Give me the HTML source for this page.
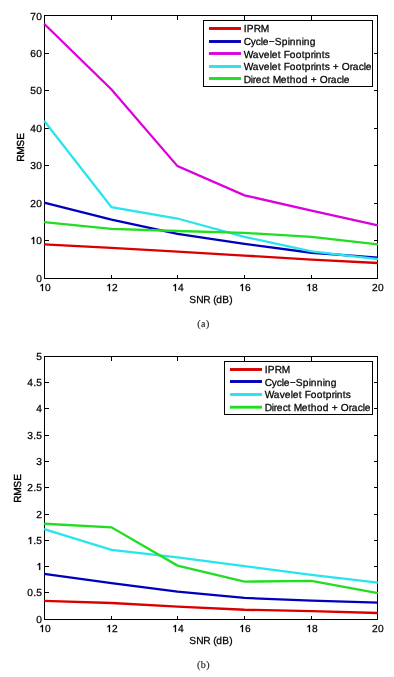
<!DOCTYPE html>
<html><head><meta charset="utf-8"><style>
html,body{margin:0;padding:0;background:#fff;}
body{width:394px;height:677px;overflow:hidden;}
svg{display:block;}
.t{filter:grayscale(1);text-rendering:geometricPrecision;font-family:"Liberation Sans",sans-serif;font-size:10.2px;fill:#000;stroke:#000;stroke-width:0.25px;}
.r{stroke-width:0.4px;}
.g{fill:#000;stroke:#000;stroke-width:0.25px;}
.c{filter:grayscale(1);text-rendering:geometricPrecision;font-family:"Liberation Serif",serif;font-size:10px;letter-spacing:0.5px;fill:#222;stroke:#222;stroke-width:0.15px;}
</style></head><body>
<svg width="394" height="677" viewBox="0 0 394 677">
<rect width="394" height="677" fill="#fff"/>
<rect x="44.5" y="15.5" width="333" height="263" fill="none" stroke="#000" stroke-width="1"/>
<line x1="44.5" y1="15" x2="44.5" y2="20" stroke="#000"/>
<line x1="44.5" y1="279" x2="44.5" y2="275" stroke="#000"/>
<text transform="translate(45.10,291.00)" x="0" y="0" class="t">0</text><path transform="translate(39.10,291.00)" d="M2.85,-7.1H3.9V0H2.85V-5.5C2.4,-5.1 1.8,-4.8 1.25,-4.65V-5.55C2.0,-5.9 2.55,-6.5 2.85,-7.1Z" class="g"/>
<line x1="111.5" y1="15" x2="111.5" y2="20" stroke="#000"/>
<line x1="111.5" y1="279" x2="111.5" y2="275" stroke="#000"/>
<text transform="translate(112.10,291.00)" x="0" y="0" class="t">2</text><path transform="translate(106.10,291.00)" d="M2.85,-7.1H3.9V0H2.85V-5.5C2.4,-5.1 1.8,-4.8 1.25,-4.65V-5.55C2.0,-5.9 2.55,-6.5 2.85,-7.1Z" class="g"/>
<line x1="177.5" y1="15" x2="177.5" y2="20" stroke="#000"/>
<line x1="177.5" y1="279" x2="177.5" y2="275" stroke="#000"/>
<text transform="translate(178.10,291.00)" x="0" y="0" class="t">4</text><path transform="translate(172.10,291.00)" d="M2.85,-7.1H3.9V0H2.85V-5.5C2.4,-5.1 1.8,-4.8 1.25,-4.65V-5.55C2.0,-5.9 2.55,-6.5 2.85,-7.1Z" class="g"/>
<line x1="244.5" y1="15" x2="244.5" y2="20" stroke="#000"/>
<line x1="244.5" y1="279" x2="244.5" y2="275" stroke="#000"/>
<text transform="translate(245.10,291.00)" x="0" y="0" class="t">6</text><path transform="translate(239.10,291.00)" d="M2.85,-7.1H3.9V0H2.85V-5.5C2.4,-5.1 1.8,-4.8 1.25,-4.65V-5.55C2.0,-5.9 2.55,-6.5 2.85,-7.1Z" class="g"/>
<line x1="311.5" y1="15" x2="311.5" y2="20" stroke="#000"/>
<line x1="311.5" y1="279" x2="311.5" y2="275" stroke="#000"/>
<text transform="translate(312.10,291.00)" x="0" y="0" class="t">8</text><path transform="translate(306.10,291.00)" d="M2.85,-7.1H3.9V0H2.85V-5.5C2.4,-5.1 1.8,-4.8 1.25,-4.65V-5.55C2.0,-5.9 2.55,-6.5 2.85,-7.1Z" class="g"/>
<line x1="377.5" y1="15" x2="377.5" y2="20" stroke="#000"/>
<line x1="377.5" y1="279" x2="377.5" y2="275" stroke="#000"/>
<text transform="translate(378.10,291.00)" x="-6 0" y="0" class="t">20</text>
<line x1="44" y1="278.5" x2="49" y2="278.5" stroke="#000"/>
<line x1="378" y1="278.5" x2="374" y2="278.5" stroke="#000"/>
<text transform="translate(42.30,282.00)" x="-6" y="0" class="t">0</text>
<line x1="44" y1="240.5" x2="49" y2="240.5" stroke="#000"/>
<line x1="378" y1="240.5" x2="374" y2="240.5" stroke="#000"/>
<text transform="translate(42.30,244.00)" x="-6" y="0" class="t">0</text><path transform="translate(30.30,244.00)" d="M2.85,-7.1H3.9V0H2.85V-5.5C2.4,-5.1 1.8,-4.8 1.25,-4.65V-5.55C2.0,-5.9 2.55,-6.5 2.85,-7.1Z" class="g"/>
<line x1="44" y1="203.5" x2="49" y2="203.5" stroke="#000"/>
<line x1="378" y1="203.5" x2="374" y2="203.5" stroke="#000"/>
<text transform="translate(42.30,207.00)" x="-12 -6" y="0" class="t">20</text>
<line x1="44" y1="165.5" x2="49" y2="165.5" stroke="#000"/>
<line x1="378" y1="165.5" x2="374" y2="165.5" stroke="#000"/>
<text transform="translate(42.30,169.00)" x="-12 -6" y="0" class="t">30</text>
<line x1="44" y1="128.5" x2="49" y2="128.5" stroke="#000"/>
<line x1="378" y1="128.5" x2="374" y2="128.5" stroke="#000"/>
<text transform="translate(42.30,132.00)" x="-12 -6" y="0" class="t">40</text>
<line x1="44" y1="90.5" x2="49" y2="90.5" stroke="#000"/>
<line x1="378" y1="90.5" x2="374" y2="90.5" stroke="#000"/>
<text transform="translate(42.30,94.00)" x="-12 -6" y="0" class="t">50</text>
<line x1="44" y1="53.5" x2="49" y2="53.5" stroke="#000"/>
<line x1="378" y1="53.5" x2="374" y2="53.5" stroke="#000"/>
<text transform="translate(42.30,57.00)" x="-12 -6" y="0" class="t">60</text>
<line x1="44" y1="15.5" x2="49" y2="15.5" stroke="#000"/>
<line x1="378" y1="15.5" x2="374" y2="15.5" stroke="#000"/>
<text transform="translate(42.30,20.00)" x="-12 -6" y="0" class="t">70</text>
<polyline points="44.10,244.31 111.50,247.88 177.50,251.71 244.50,255.58 311.50,259.60 377.90,262.98" fill="none" stroke="#da0000" stroke-width="2.3"/>
<polyline points="44.10,202.61 111.50,219.51 177.50,233.79 244.50,243.93 311.50,252.76 377.90,257.61" fill="none" stroke="#0000bc" stroke-width="2.3"/>
<polyline points="44.10,23.77 111.50,89.52 177.50,166.16 244.50,195.28 311.50,210.68 377.90,225.30" fill="none" stroke="#dc00dc" stroke-width="2.3"/>
<polyline points="44.10,120.70 111.50,207.11 177.50,218.50 244.50,236.80 311.50,251.45 377.90,259.11" fill="none" stroke="#28e4ec" stroke-width="2.3"/>
<polyline points="44.10,222.22 111.50,228.91 177.50,231.01 244.50,232.89 311.50,236.80 377.90,244.31" fill="none" stroke="#22dd22" stroke-width="2.3"/>
<rect x="203.5" y="20.5" width="169" height="66" fill="#fff" stroke="#000" stroke-width="1"/>
<line x1="209" y1="28.5" x2="241" y2="28.5" stroke="#da0000" stroke-width="2.9"/>
<text transform="translate(243.80,32.00)" x="0 3 10 17" y="0" class="t">IPRM</text>
<line x1="209" y1="41.5" x2="241" y2="41.5" stroke="#0000bc" stroke-width="2.9"/>
<text transform="translate(243.80,45.00)" x="0 7 12 17 19 25 31 38 44 46 52 58 60 66" y="0" class="t">Cycle−Spinning</text>
<line x1="209" y1="53.5" x2="241" y2="53.5" stroke="#dc00dc" stroke-width="2.9"/>
<text transform="translate(243.80,58.00)" x="0 9 15 20 26 28 34 37 40 46 52 58 61 67 70 72 78 81" y="0" class="t">Wavelet Footprints</text>
<line x1="209" y1="66.5" x2="241" y2="66.5" stroke="#28e4ec" stroke-width="2.9"/>
<text transform="translate(243.80,70.00)" x="0 9 15 20 26 28 34 37 40 46 52 58 61 67 70 72 78 81 86 89 95 98 106 109 115 120 122" y="0" class="t">Wavelet Footprints + Oracle</text>
<line x1="209" y1="78.5" x2="241" y2="78.5" stroke="#22dd22" stroke-width="2.9"/>
<text transform="translate(243.80,83.00)" x="0 7 9 12 18 23 26 29 37 43 46 52 58 64 67 73 76 84 87 93 98 100" y="0" class="t">Direct Method + Oracle</text>
<text transform="translate(189.35,303.00)" x="0 7 14 21 24 27 33 40" y="0" class="t">SNR (dB)</text>
<text transform="translate(24.00,147.20) rotate(-90)" x="-14.5 -7.5 0.5 7.5" y="0" class="t r">RMSE</text>
<text x="203.5" y="326.6" text-anchor="middle" class="c">(a)</text>
<rect x="44.5" y="356.5" width="333" height="263" fill="none" stroke="#000" stroke-width="1"/>
<line x1="44.5" y1="356" x2="44.5" y2="361" stroke="#000"/>
<line x1="44.5" y1="620" x2="44.5" y2="616" stroke="#000"/>
<text transform="translate(45.10,632.00)" x="0" y="0" class="t">0</text><path transform="translate(39.10,632.00)" d="M2.85,-7.1H3.9V0H2.85V-5.5C2.4,-5.1 1.8,-4.8 1.25,-4.65V-5.55C2.0,-5.9 2.55,-6.5 2.85,-7.1Z" class="g"/>
<line x1="111.5" y1="356" x2="111.5" y2="361" stroke="#000"/>
<line x1="111.5" y1="620" x2="111.5" y2="616" stroke="#000"/>
<text transform="translate(112.10,632.00)" x="0" y="0" class="t">2</text><path transform="translate(106.10,632.00)" d="M2.85,-7.1H3.9V0H2.85V-5.5C2.4,-5.1 1.8,-4.8 1.25,-4.65V-5.55C2.0,-5.9 2.55,-6.5 2.85,-7.1Z" class="g"/>
<line x1="177.5" y1="356" x2="177.5" y2="361" stroke="#000"/>
<line x1="177.5" y1="620" x2="177.5" y2="616" stroke="#000"/>
<text transform="translate(178.10,632.00)" x="0" y="0" class="t">4</text><path transform="translate(172.10,632.00)" d="M2.85,-7.1H3.9V0H2.85V-5.5C2.4,-5.1 1.8,-4.8 1.25,-4.65V-5.55C2.0,-5.9 2.55,-6.5 2.85,-7.1Z" class="g"/>
<line x1="244.5" y1="356" x2="244.5" y2="361" stroke="#000"/>
<line x1="244.5" y1="620" x2="244.5" y2="616" stroke="#000"/>
<text transform="translate(245.10,632.00)" x="0" y="0" class="t">6</text><path transform="translate(239.10,632.00)" d="M2.85,-7.1H3.9V0H2.85V-5.5C2.4,-5.1 1.8,-4.8 1.25,-4.65V-5.55C2.0,-5.9 2.55,-6.5 2.85,-7.1Z" class="g"/>
<line x1="311.5" y1="356" x2="311.5" y2="361" stroke="#000"/>
<line x1="311.5" y1="620" x2="311.5" y2="616" stroke="#000"/>
<text transform="translate(312.10,632.00)" x="0" y="0" class="t">8</text><path transform="translate(306.10,632.00)" d="M2.85,-7.1H3.9V0H2.85V-5.5C2.4,-5.1 1.8,-4.8 1.25,-4.65V-5.55C2.0,-5.9 2.55,-6.5 2.85,-7.1Z" class="g"/>
<line x1="377.5" y1="356" x2="377.5" y2="361" stroke="#000"/>
<line x1="377.5" y1="620" x2="377.5" y2="616" stroke="#000"/>
<text transform="translate(378.10,632.00)" x="-6 0" y="0" class="t">20</text>
<line x1="44" y1="619.5" x2="49" y2="619.5" stroke="#000"/>
<line x1="378" y1="619.5" x2="374" y2="619.5" stroke="#000"/>
<text transform="translate(42.30,623.00)" x="-6" y="0" class="t">0</text>
<line x1="44" y1="592.5" x2="49" y2="592.5" stroke="#000"/>
<line x1="378" y1="592.5" x2="374" y2="592.5" stroke="#000"/>
<text transform="translate(42.30,596.00)" x="-15 -9 -6" y="0" class="t">0.5</text>
<line x1="44" y1="566.5" x2="49" y2="566.5" stroke="#000"/>
<line x1="378" y1="566.5" x2="374" y2="566.5" stroke="#000"/>
<path transform="translate(36.30,570.00)" d="M2.85,-7.1H3.9V0H2.85V-5.5C2.4,-5.1 1.8,-4.8 1.25,-4.65V-5.55C2.0,-5.9 2.55,-6.5 2.85,-7.1Z" class="g"/>
<line x1="44" y1="540.5" x2="49" y2="540.5" stroke="#000"/>
<line x1="378" y1="540.5" x2="374" y2="540.5" stroke="#000"/>
<text transform="translate(42.30,544.00)" x="-9 -6" y="0" class="t">.5</text><path transform="translate(27.30,544.00)" d="M2.85,-7.1H3.9V0H2.85V-5.5C2.4,-5.1 1.8,-4.8 1.25,-4.65V-5.55C2.0,-5.9 2.55,-6.5 2.85,-7.1Z" class="g"/>
<line x1="44" y1="514.5" x2="49" y2="514.5" stroke="#000"/>
<line x1="378" y1="514.5" x2="374" y2="514.5" stroke="#000"/>
<text transform="translate(42.30,518.00)" x="-6" y="0" class="t">2</text>
<line x1="44" y1="487.5" x2="49" y2="487.5" stroke="#000"/>
<line x1="378" y1="487.5" x2="374" y2="487.5" stroke="#000"/>
<text transform="translate(42.30,491.00)" x="-15 -9 -6" y="0" class="t">2.5</text>
<line x1="44" y1="461.5" x2="49" y2="461.5" stroke="#000"/>
<line x1="378" y1="461.5" x2="374" y2="461.5" stroke="#000"/>
<text transform="translate(42.30,465.00)" x="-6" y="0" class="t">3</text>
<line x1="44" y1="435.5" x2="49" y2="435.5" stroke="#000"/>
<line x1="378" y1="435.5" x2="374" y2="435.5" stroke="#000"/>
<text transform="translate(42.30,439.00)" x="-15 -9 -6" y="0" class="t">3.5</text>
<line x1="44" y1="408.5" x2="49" y2="408.5" stroke="#000"/>
<line x1="378" y1="408.5" x2="374" y2="408.5" stroke="#000"/>
<text transform="translate(42.30,412.00)" x="-6" y="0" class="t">4</text>
<line x1="44" y1="382.5" x2="49" y2="382.5" stroke="#000"/>
<line x1="378" y1="382.5" x2="374" y2="382.5" stroke="#000"/>
<text transform="translate(42.30,386.00)" x="-15 -9 -6" y="0" class="t">4.5</text>
<line x1="44" y1="356.5" x2="49" y2="356.5" stroke="#000"/>
<line x1="378" y1="356.5" x2="374" y2="356.5" stroke="#000"/>
<text transform="translate(42.30,360.00)" x="-6" y="0" class="t">5</text>
<polyline points="44.10,600.88 111.50,602.98 177.50,606.61 244.50,609.77 311.50,611.08 377.90,612.98" fill="none" stroke="#da0000" stroke-width="2.3"/>
<polyline points="44.10,573.90 111.50,583.10 177.50,591.62 244.50,597.93 311.50,600.56 377.90,602.67" fill="none" stroke="#0000bc" stroke-width="2.3"/>
<polyline points="44.10,529.03 111.50,549.80 177.50,557.43 244.50,566.11 311.50,574.90 377.90,582.68" fill="none" stroke="#28e4ec" stroke-width="2.3"/>
<polyline points="44.10,523.77 111.50,527.29 177.50,565.59 244.50,581.63 311.50,580.84 377.90,593.20" fill="none" stroke="#22dd22" stroke-width="2.3"/>
<rect x="224.5" y="361.5" width="148" height="53" fill="#fff" stroke="#000" stroke-width="1"/>
<line x1="230" y1="369.5" x2="262" y2="369.5" stroke="#da0000" stroke-width="2.9"/>
<text transform="translate(264.80,373.00)" x="0 3 10 17" y="0" class="t">IPRM</text>
<line x1="230" y1="381.5" x2="262" y2="381.5" stroke="#0000bc" stroke-width="2.9"/>
<text transform="translate(264.80,386.00)" x="0 7 12 17 19 25 31 38 44 46 52 58 60 66" y="0" class="t">Cycle−Spinning</text>
<line x1="230" y1="394.5" x2="262" y2="394.5" stroke="#28e4ec" stroke-width="2.9"/>
<text transform="translate(264.80,398.00)" x="0 9 15 20 26 28 34 37 40 46 52 58 61 67 70 72 78 81" y="0" class="t">Wavelet Footprints</text>
<line x1="230" y1="407.2" x2="262" y2="407.2" stroke="#22dd22" stroke-width="2.9"/>
<text transform="translate(264.80,411.00)" x="0 7 9 12 18 23 26 29 37 43 46 52 58 64 67 73 76 84 87 93 98 100" y="0" class="t">Direct Method + Oracle</text>
<text transform="translate(189.35,644.00)" x="0 7 14 21 24 27 33 40" y="0" class="t">SNR (dB)</text>
<text transform="translate(21.00,488.20) rotate(-90)" x="-14.5 -7.5 0.5 7.5" y="0" class="t r">RMSE</text>
<text x="203.5" y="667.6" text-anchor="middle" class="c">(b)</text>
</svg>
</body></html>
